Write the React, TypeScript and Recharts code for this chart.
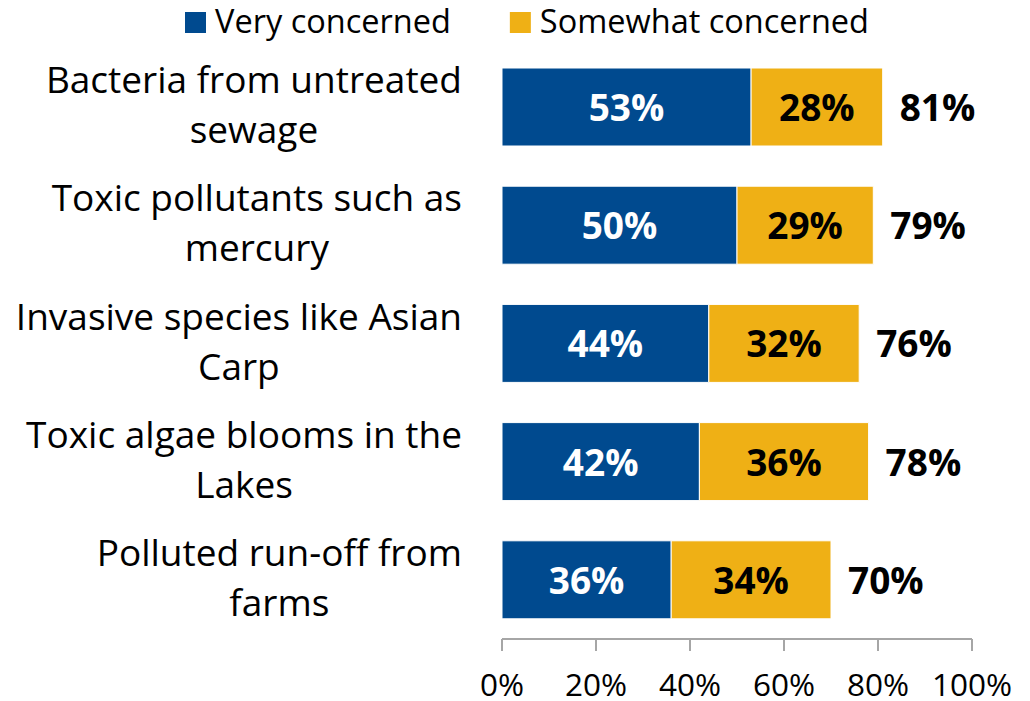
import React from 'react';
import { BarChart, Bar, XAxis, YAxis, Legend, LabelList } from 'recharts';

const categories = [
  'Bacteria from untreated sewage',
  'Toxic pollutants such as mercury',
  'Invasive species like Asian Carp',
  'Toxic algae blooms in the Lakes',
  'Polluted run-off from farms',
];
const veryConcerned = [53, 50, 44, 42, 36];
const somewhatConcerned = [28, 29, 32, 36, 34];
const seriesNames = ['Very concerned', 'Somewhat concerned'];
const xTicks = [0, 20, 40, 60, 80, 100];

const BLUE = '#004A8F';
const GOLD = '#EFB015';
const AXIS = '#A6A6A6';
const FONT = '"Open Sans", sans-serif';
const CAT_SIZE = 37;
const TICK_SIZE = 31.5;
const LEG_SIZE = 32.5;
const LBL_SIZE = 37;

const data = categories.map((c, i) => ({
  category: c,
  very: veryConcerned[i],
  somewhat: somewhatConcerned[i],
  total: veryConcerned[i] + somewhatConcerned[i],
}));

let ctx: CanvasRenderingContext2D | null = null;
function measure(text: string, size: number, weight = 'normal'): number {
  if (!ctx) {
    const c = document.createElement('canvas');
    ctx = c.getContext('2d');
  }
  if (!ctx) return text.length * size * 0.5;
  ctx.font = `${weight} ${size}px "Open Sans"`;
  return ctx.measureText(text).width;
}

const CategoryTick = (props: any) => {
  const { x, y, payload } = props;
  const words = String(payload.value).split(' ');
  const l1 = words.slice(0, -1).join(' ');
  const l2 = words[words.length - 1];
  const w1 = measure(l1, CAT_SIZE);
  return (
    <g>
      <text x={x} y={y - 14} textAnchor="end" fontSize={CAT_SIZE} fontFamily={FONT} fill="#000">
        {l1}
      </text>
      <text x={x - w1 / 2} y={y + 36} textAnchor="middle" fontSize={CAT_SIZE} fontFamily={FONT} fill="#000">
        {l2}
      </text>
    </g>
  );
};

const XTick = (props: any) => {
  const { x, y, payload } = props;
  return (
    <text x={x} y={y + 43} textAnchor="middle" fontSize={TICK_SIZE} fontFamily={FONT} fill="#000">
      {`${payload.value}%`}
    </text>
  );
};

const makeInnerLabel = (color: string) => (props: any) => {
  const { x, y, width, height, value } = props;
  return (
    <text
      x={Number(x) + Number(width) / 2}
      y={Number(y) + Number(height) / 2 + 14}
      textAnchor="middle"
      fontSize={LBL_SIZE}
      fontWeight="bold"
      fontFamily={FONT}
      fill={color}
    >
      {`${value}%`}
    </text>
  );
};

const TotalLabel = (props: any) => {
  const { x, y, width, height, value } = props;
  return (
    <text
      x={Number(x) + Number(width) + 17}
      y={Number(y) + Number(height) / 2 + 14}
      textAnchor="start"
      fontSize={LBL_SIZE}
      fontWeight="bold"
      fontFamily={FONT}
      fill="#000"
    >
      {`${value}%`}
    </text>
  );
};

const LegendContent = (props: any) => {
  const payload = [...(props.payload || [])].sort(
    (a: any, b: any) => seriesNames.indexOf(String(a.value)) - seriesNames.indexOf(String(b.value))
  );
  let cx = 185;
  const items = payload.map((entry: any, i: number) => {
    const label = String(entry.value);
    const w = measure(label, LEG_SIZE);
    const sx = cx;
    cx = sx + 30 + w + 59;
    return (
      <g key={i}>
        <rect x={sx} y={12} width={21} height={21} fill={entry.color} />
        <text x={sx + 30} y={33} fontSize={LEG_SIZE} fontFamily={FONT} fill="#000">
          {label}
        </text>
      </g>
    );
  });
  return (
    <svg width={1030} height={50} style={{ display: 'block', overflow: 'visible' }}>
      {items}
    </svg>
  );
};

export default function App() {
  return (
    <div style={{ position: 'absolute', left: 0, top: 0, width: 1030, height: 701, background: '#fff' }}>
      <BarChart
        width={1030}
        height={701}
        data={data}
        layout="vertical"
        margin={{ top: 48, right: 58, bottom: 0, left: 0 }}
        barSize={78}
      >
        <XAxis
          type="number"
          domain={[0, 100]}
          ticks={xTicks}
          interval={0}
          height={62}
          tickSize={12}
          tickMargin={2}
          axisLine={{ stroke: AXIS, strokeWidth: 2 }}
          tickLine={{ stroke: AXIS, strokeWidth: 2 }}
          tick={<XTick />}
        />
        <YAxis
          type="category"
          dataKey="category"
          width={502}
          axisLine={false}
          tickLine={false}
          tickSize={0}
          tickMargin={40}
          interval={0}
          tick={<CategoryTick />}
        />
        <Legend
          layout="horizontal"
          verticalAlign="middle"
          align="center"
          content={<LegendContent />}
          wrapperStyle={{ position: 'absolute', top: 0, left: 0, width: 1030, height: 50, overflow: 'visible' }}
        />
        <Bar dataKey="very" name={seriesNames[0]} stackId="s" fill={BLUE} stroke="#fff" strokeWidth={1} isAnimationActive={false}>
          <LabelList dataKey="very" content={makeInnerLabel('#fff')} />
        </Bar>
        <Bar dataKey="somewhat" name={seriesNames[1]} stackId="s" fill={GOLD} stroke="#fff" strokeWidth={1} isAnimationActive={false}>
          <LabelList dataKey="somewhat" content={makeInnerLabel('#000')} />
          <LabelList dataKey="total" content={TotalLabel} />
        </Bar>
      </BarChart>
    </div>
  );
}
